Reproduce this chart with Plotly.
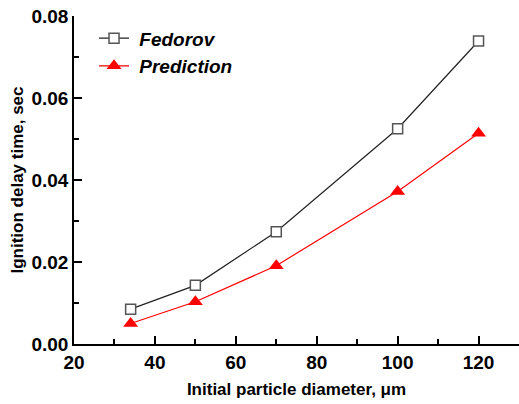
import plotly.graph_objects as go

diam = [34, 50, 70, 100, 120]
fedorov = [0.0085, 0.0143, 0.0274, 0.0525, 0.0739]
prediction = [0.0050, 0.0103, 0.0191, 0.0372, 0.0514]
names = ["\u00a0Fedorov", "\u00a0Prediction"]

fig = go.Figure()
fig.add_trace(go.Scatter(
    x=diam, y=fedorov, mode="lines+markers", name=names[0],
    line=dict(color="#222222", width=1.2),
    marker=dict(symbol="square", size=10, color="white", line=dict(color="#555555", width=1.5)),
))
fig.add_trace(go.Scatter(
    x=diam, y=prediction, mode="lines+markers", name=names[1],
    line=dict(color="#ff0000", width=1.2),
    marker=dict(symbol="triangle-up", size=13, color="#ff0000", line=dict(width=0)),
))

font_family = "Liberation Sans, Arial, sans-serif"
fig.update_layout(
    width=519, height=404,
    margin=dict(l=74, r=0, t=16, b=60),
    paper_bgcolor="white", plot_bgcolor="white",
    font=dict(family=font_family, color="black"),
    showlegend=True,
    legend=dict(
        x=0.045, y=0.99, xanchor="left", yanchor="top",
        bgcolor="rgba(0,0,0,0)",
        font=dict(size=19, family=font_family, style="italic", weight="bold"),
        tracegroupgap=0,
    ),
)
fig.update_xaxes(
    range=[20, 130], tick0=20, dtick=20,
    ticks="inside", ticklen=8, tickwidth=2, tickcolor="black",
    minor=dict(dtick=10, ticks="inside", ticklen=5, tickwidth=2, tickcolor="black", showgrid=False),
    showline=True, linecolor="black", linewidth=1.5,
    showgrid=False, zeroline=False, layer="above traces",
    tickfont=dict(size=19, weight="bold"),
    title=dict(text="Initial particle diameter, μm", font=dict(size=17, weight="bold"), standoff=12),
)
fig.update_yaxes(
    range=[0, 0.08], tick0=0, dtick=0.02, tickformat=".2f",
    ticks="inside", ticklen=8, tickwidth=2, tickcolor="black",
    minor=dict(dtick=0.01, ticks="inside", ticklen=5, tickwidth=2, tickcolor="black", showgrid=False),
    showline=True, linecolor="black", linewidth=1.5,
    showgrid=False, zeroline=False, layer="above traces",
    tickfont=dict(size=19, weight="bold"),
    title=dict(text="Ignition delay time, sec", font=dict(size=17, weight="bold"), standoff=4),
)

fig.write_html("out.html")
